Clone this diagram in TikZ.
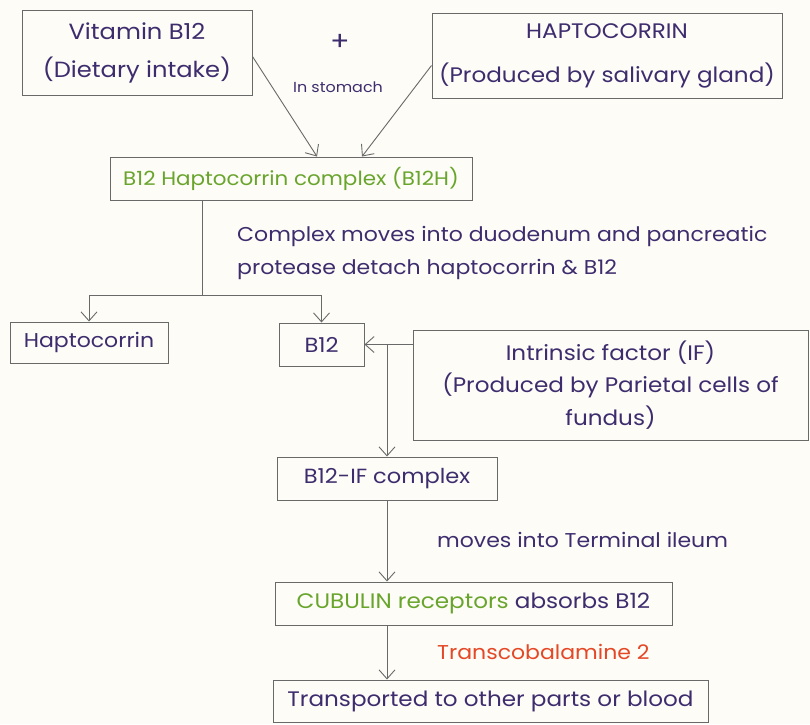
\documentclass[tikz,border=0pt]{standalone}
\usepackage{fontspec}
\setmainfont{Poppins}[FakeStretch=1.1]
\usetikzlibrary{arrows.meta, positioning, calc}

\definecolor{ink}{RGB}{62,45,110}
\definecolor{leaf}{RGB}{105,165,45}
\definecolor{rust}{RGB}{228,72,38}
\definecolor{paper}{RGB}{253,252,246}
\definecolor{frame}{RGB}{105,105,105}

\begin{document}
\begin{tikzpicture}[
        x=1pt, y=-1pt,
        box/.style={
            draw=frame,
            line width=1pt,
            inner sep=0pt,
            align=center,
            text=ink,
            font=\fontsize{20.5}{33}\selectfont
        },
        note/.style={
            inner sep=0pt,
            align=left,
            text=ink,
            font=\fontsize{20}{33}\selectfont
        },
        arrow/.style={
            -{Straight Barb[length=9pt, width=16pt]},
            draw=frame,
            line width=0.9pt
        }
    ]

    % page
    \fill[paper] (0,0) rectangle (810,724);
    \useasboundingbox (0,0) rectangle (810,724);

    % boxes
    \node[box, minimum width=230pt, minimum height=85pt,
          font=\fontsize{22}{38}\selectfont] (vitamin) at (137,52.5)
        {Vitamin B12\\(Dietary intake)};
    \node[box, minimum width=350pt, minimum height=85pt,
          font=\fontsize{21}{44}\selectfont] (hapto) at (607,55.5)
        {HAPTOCORRIN\\(Produced by salivary gland)};
    \node[box, minimum width=362pt, minimum height=43pt, text=leaf,
          font=\fontsize{19.5}{33}\selectfont] (complexH) at (291,178.5)
        {B12 Haptocorrin complex (B12H)};
    \node[box, minimum width=158pt, minimum height=41pt,
          font=\fontsize{20}{33}\selectfont] (haptoOut) at (89,342.5)
        {Haptocorrin};
    \node[box, minimum width=85pt, minimum height=43pt] (bfree) at (321.5,344.5)
        {B12};
    \node[box, minimum width=395pt, minimum height=110pt,
          font=\fontsize{21}{32.5}\selectfont] (intrinsic) at (610.5,385)
        {Intrinsic factor (IF)\\(Produced by Parietal cells of\\fundus)};
    \node[box, minimum width=220pt, minimum height=43pt] (bif) at (387,478.5)
        {B12-IF complex};
    \node[box, minimum width=397pt, minimum height=43pt,
          font=\fontsize{21}{33}\selectfont] (cubulin) at (473.5,603.5)
        {{\color{leaf}CUBULIN receptors} absorbs B12};
    \node[box, minimum width=435pt, minimum height=42pt,
          font=\fontsize{21}{33}\selectfont] (transport) at (490.5,701)
        {Transported to other parts or blood};

    % labels
    \node[text=ink, font=\fontsize{26}{26}\selectfont] (plus) at (340,42) {+};
    \node[text=ink, font=\fontsize{14.5}{14.5}\selectfont] (stomach) at (338,87) {In stomach};
    \node[note, anchor=west] (detach) at (237,253)
        {Complex moves into duodenum and pancreatic\\protease detach haptocorrin \& B12};
    \node[note, anchor=west] (ileum) at (437,540) {moves into Terminal ileum};
    \node[note, anchor=west, text=rust] (transco) at (437,652) {Transcobalamine 2};

    % connectors
    \draw[arrow] ($(vitamin.east)+(0,4)$) -- ($(complexH.north)+(26,0)$);
    \draw[arrow] ($(hapto.west)+(0,10)$) -- ($(complexH.north)+(71,0)$);

    \coordinate (split) at (202,295);
    \draw[draw=frame, line width=0.9pt] (complexH.south -| split) -- (split);
    \draw[arrow] (split) -| (haptoOut.north);
    \draw[arrow] (split) -| (bfree.north);

    \draw[arrow] (bfree.east -| intrinsic.west) -- (bfree.east);
    \draw[arrow] (bif.north |- bfree.east) -- (bif.north);
    \draw[arrow] (bif.south) -- (bif.south |- cubulin.north);
    \draw[arrow] (bif.south |- cubulin.south) -- (bif.south |- transport.north);

\end{tikzpicture}
\end{document}
